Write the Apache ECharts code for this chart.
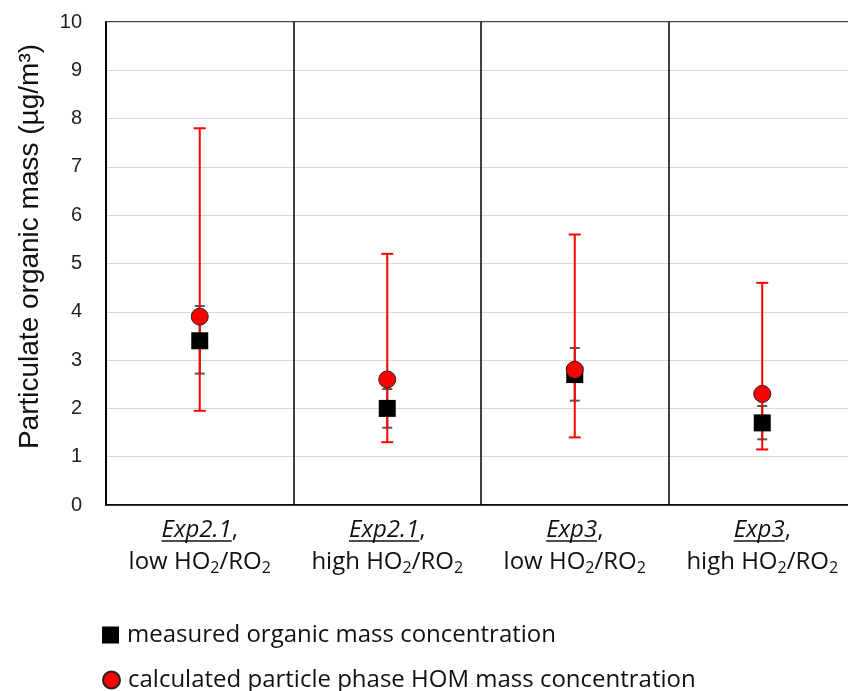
<!DOCTYPE html>
<html>
<head>
<meta charset="utf-8">
<script src="https://cdn.jsdelivr.net/npm/echarts@6/dist/echarts.min.js"></script>
<style>
  html, body { margin: 0; padding: 0; background: #fff; overflow: hidden; }
  #chart { width: 856px; height: 691px; }
</style>
</head>
<body>
<div id="chart"></div>
<script>
// experiments and their HO2/RO2 regime
var expNames = ['Exp2.1', 'Exp2.1', 'Exp3', 'Exp3']
var regimes = ['low', 'high', 'low', 'high']

// measured organic mass (black squares) with its range
var measured = [3.4, 2.0, 2.7, 1.7]
var measuredLow = [2.72, 1.6, 2.16, 1.36]
var measuredHigh = [4.12, 2.4, 3.25, 2.05]

// calculated particle phase HOM mass (red circles) with its range
var calculated = [3.9, 2.6, 2.8, 2.3]
var calculatedLow = [1.95, 1.3, 1.4, 1.15]
var calculatedHigh = [7.8, 5.2, 5.6, 4.6]

var yTicks = [0, 1, 2, 3, 4, 5, 6, 7, 8, 9, 10]

var labelFont = '"Open Sans", Lato, sans-serif'
var numFont = '"Liberation Sans", Arial, sans-serif'
var labelSize = 24

// the plot area runs a few pixels past the right edge of the window, as in the original
var chart = echarts.init(document.getElementById('chart'))

function errBar(color, width, cap) {
  return function (params, api) {
    var i = api.value(0)
    var lo = api.coord([i, api.value(1)])
    var hi = api.coord([i, api.value(2)])
    var st = { stroke: color, lineWidth: width }
    return {
      type: 'group',
      children: [
        { type: 'line', shape: { x1: lo[0], y1: lo[1], x2: hi[0], y2: hi[1] }, style: st },
        { type: 'line', shape: { x1: lo[0] - cap, y1: lo[1], x2: lo[0] + cap, y2: lo[1] }, style: st },
        { type: 'line', shape: { x1: hi[0] - cap, y1: hi[1], x2: hi[0] + cap, y2: hi[1] }, style: st }
      ]
    }
  }
}

var categories = expNames.map(function (n, i) { return i })
var legendText = { fontFamily: labelFont, fontSize: 24, color: '#111', padding: [0, 0, 0, 3] }

chart.setOption({
  animation: false,
  grid: {
    left: 106,
    top: 22,
    right: 0,
    bottom: 186,
    show: true,
    borderColor: '#000',
    borderWidth: 1.5
  },
  legend: [
    {
      data: ['measured organic mass concentration'],
      left: 97,
      top: 618,
      itemWidth: 17,
      itemHeight: 17,
      textStyle: legendText
    },
    {
      data: ['calculated particle phase HOM mass concentration'],
      left: 97,
      top: 663,
      itemWidth: 17,
      itemHeight: 17,
      textStyle: legendText
    }
  ],
  xAxis: {
    type: 'category',
    data: categories,
    axisLine: { lineStyle: { color: '#000', width: 1.5 } },
    axisTick: { show: false },
    splitLine: { show: true, interval: 0, lineStyle: { color: '#000', width: 1.5 } },
    axisLabel: {
      interval: 0,
      margin: 9,
      formatter: function (v) {
        var i = +v
        return '{ex|' + expNames[i] + '}{n|,}\n{n|' + regimes[i] + ' HO}{s|2}{n|/RO}{s|2}'
      },
      rich: {
        ex: { fontFamily: labelFont, fontSize: labelSize, fontStyle: 'italic', color: '#111', lineHeight: 32 },
        n: { fontFamily: labelFont, fontSize: labelSize, color: '#111', lineHeight: 32 },
        s: { fontFamily: labelFont, fontSize: 16, color: '#111', lineHeight: 32, padding: [13, 0, 0, 0] }
      }
    }
  },
  yAxis: {
    type: 'value',
    min: 0,
    max: 10,
    interval: 1,
    name: 'Particulate organic mass (µg/m³)',
    nameLocation: 'middle',
    nameGap: 62,
    nameTextStyle: { fontFamily: numFont, fontSize: 28, color: '#111', padding: [0, 0, 0, 34] },
    axisLine: { show: true, lineStyle: { color: '#000', width: 1.5 } },
    axisTick: { show: false },
    axisLabel: {
      margin: 24,
      fontFamily: numFont,
      fontSize: 20,
      color: '#222',
      formatter: function (v) { return yTicks.indexOf(v) >= 0 ? String(v) : '' }
    },
    splitLine: { lineStyle: { color: '#d9d9d9', width: 1 } }
  },
  series: [
    {
      name: 'measured range',
      type: 'custom',
      renderItem: errBar('#595959', 2, 5),
      data: categories.map(function (i) { return [i, measuredLow[i], measuredHigh[i]] }),
      z: 3
    },
    {
      name: 'calculated range',
      type: 'custom',
      renderItem: errBar('#ff0000', 2, 6),
      data: categories.map(function (i) { return [i, calculatedLow[i], calculatedHigh[i]] }),
      z: 4
    },
    {
      name: 'measured organic mass concentration',
      type: 'scatter',
      symbol: 'rect',
      symbolSize: 17,
      itemStyle: { color: '#000', opacity: 1 },
      data: categories.map(function (i) { return [i, measured[i]] }),
      z: 5
    },
    {
      name: 'calculated particle phase HOM mass concentration',
      type: 'scatter',
      symbol: 'circle',
      symbolSize: 17,
      itemStyle: { color: '#ff0000', borderColor: '#222', borderWidth: 1, opacity: 1 },
      data: categories.map(function (i) { return [i, calculated[i]] }),
      z: 6
    }
  ]
})

// underline the experiment names (rich text has no underline)
var ctx = document.createElement('canvas').getContext('2d')
var lines = []
categories.forEach(function (i) {
  ctx.font = labelSize + 'px ' + labelFont
  var wComma = ctx.measureText(',').width
  ctx.font = 'italic ' + labelSize + 'px ' + labelFont
  var wName = ctx.measureText(expNames[i]).width
  var cx = chart.convertToPixel({ xAxisIndex: 0 }, i)
  var x0 = cx - (wName + wComma) / 2
  lines.push({
    type: 'line',
    shape: { x1: x0, y1: 541, x2: x0 + wName, y2: 541 },
    style: { stroke: '#111', lineWidth: 1.5 }
  })
})
chart.setOption({ graphic: lines })
</script>
</body>
</html>
